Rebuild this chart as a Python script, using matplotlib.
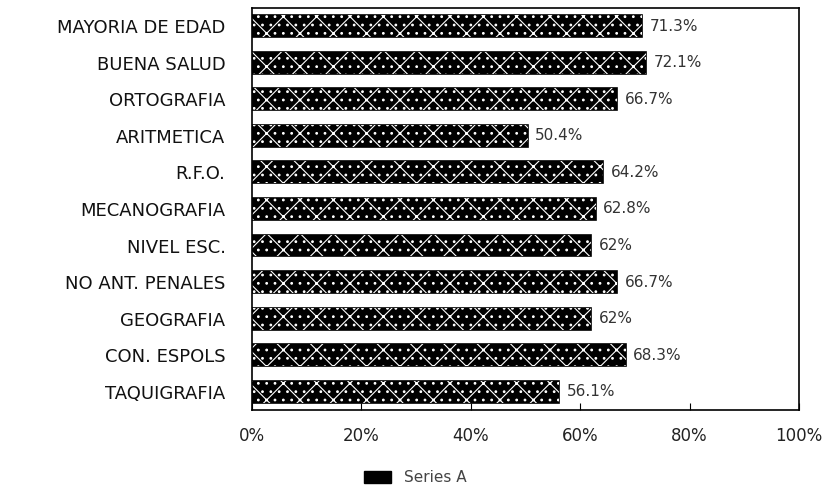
import matplotlib
matplotlib.use('Agg')
import matplotlib.pyplot as plt
import numpy as np

categories = ['MAYORIA DE EDAD', 'BUENA SALUD', 'ORTOGRAFIA', 'ARITMETICA',
              'R.F.O.', 'MECANOGRAFIA', 'NIVEL ESC.', 'NO ANT. PENALES',
              'GEOGRAFIA', 'CON. ESPOLS', 'TAQUIGRAFIA']
values = [71.3, 72.1, 66.7, 50.4, 64.2, 62.8, 62, 66.7, 62, 68.3, 56.1]
value_labels = ['71.3%', '72.1%', '66.7%', '50.4%', '64.2%', '62.8%', '62%',
                '66.7%', '62%', '68.3%', '56.1%']
xticks = [0, 20, 40, 60, 80, 100]
xtick_labels = ['0%', '20%', '40%', '60%', '80%', '100%']

plt.rcParams['font.family'] = ['DejaVu Sans']
plt.rcParams['hatch.linewidth'] = 0.8

fig = plt.figure(figsize=(8.3, 4.93), dpi=100)
ax = fig.add_axes([0.3036, 0.1684, 0.6591, 0.8154])

y = np.arange(len(categories))
ax.barh(y, values, height=0.6, color='black', edgecolor='black', linewidth=1.2,
        label='Series A')
# white speckle over the black bars
ax.barh(y, values, height=0.6, facecolor='none', edgecolor='white',
        hatch='x..', linewidth=0)

for i, v in enumerate(values):
    ax.text(v + 1.4, i, value_labels[i], va='center', ha='left', fontsize=11,
            color='#333333')

ax.set_xlim(0, 100)
ax.set_ylim(len(categories) - 0.5, -0.5)
ax.set_yticks(y)
ax.set_yticklabels(categories, fontsize=13, color='#111111')
ax.set_xticks(xticks)
ax.set_xticklabels(xtick_labels, fontsize=12, color='#222222')
ax.tick_params(axis='y', length=0, pad=19)
ax.tick_params(axis='x', direction='in', length=5, pad=12)
for s in ax.spines.values():
    s.set_linewidth(1.2)

fig.legend(handles=[plt.Rectangle((0, 0), 1, 1, facecolor='black',
                                  edgecolor='black', hatch='x..')],
           labels=['Series A'], loc='lower center', bbox_to_anchor=(0.5, -0.012),
           frameon=False, fontsize=11, handlelength=1.8, handleheight=0.9,
           labelcolor='#444444')

fig.savefig('out.png', dpi=100)
